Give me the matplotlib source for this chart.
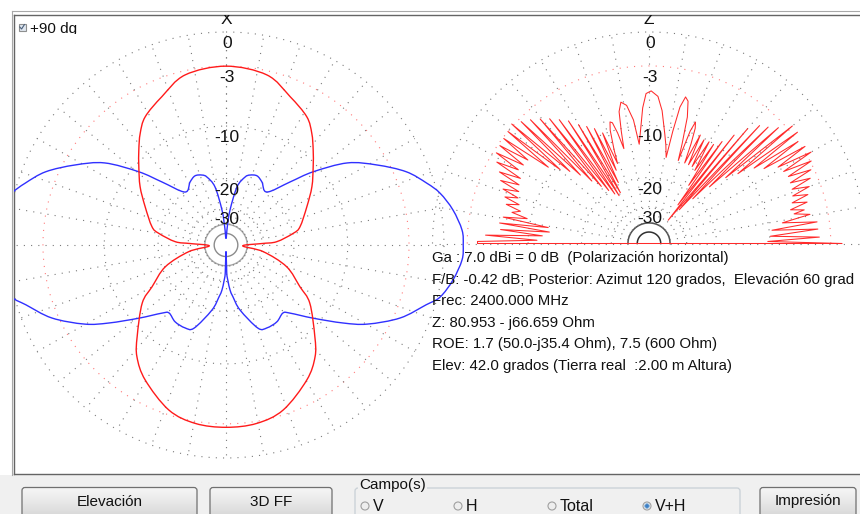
import numpy as np
import matplotlib
matplotlib.use("Agg")
import matplotlib.pyplot as plt
from matplotlib.patches import FancyBboxPatch, Circle, Rectangle, PathPatch
from matplotlib.path import Path
from matplotlib.colors import LinearSegmentedColormap

W, H = 860, 514
FONT = ["Liberation Sans Narrow", "Liberation Sans", "DejaVu Sans"]

# ---------------- pattern data (dB, ARRL log scale) ----------------
# Left plot ("X"): angle from the top, clockwise; the pattern is symmetric
h_theta = [0, 13.2, 22.9, 31.6, 36.9, 41.9, 47.5, 55.2, 64.1, 75.8, 79.9, 86.2,
           87.6, 93.1, 100.4, 110.1, 120, 125.4, 136.5, 142.1, 149.7, 161.3, 170.5, 180]
h_db = [-3.0, -3.4, -4.8, -5.95, -7.25, -8.8, -10.5, -12.6, -15.2, -18.0, -19.9, -25.0,
        -30.9, -44.0, -30.0, -20.9, -16.1, -12.9, -9.0, -7.0, -5.3, -3.45, -2.8, -2.67]

v_theta = [0, 4.0, 6.4, 10.5, 15.3, 18.5, 23.7, 29.2, 37.1, 44.8, 49.3, 55.3, 61.5,
           67.4, 72.5, 76.1, 81.0, 86.3, 90, 93.7, 99, 104, 107, 113.2, 119.8, 124.3,
           130.7, 137.4, 140.7, 147.1, 154.2, 159.4, 168.1, 172.5, 175.0, 176.9, 178.5, 180]
v_db = [-60, -42.1, -30.9, -22.0, -19.0, -18.2, -17.8, -18.6, -20.0, -15.0, -11.0, -6.7,
        -4.1, -1.9, -0.6, 0.2, 0.9, 1.4, 1.45, 1.4, 0.9, 0.2, -0.7, -2.4, -5.0, -7.4,
        -11.0, -14.3, -15.2, -14.5, -14.4, -15.0, -20.0, -24.1, -26.6, -30.5, -34.8, -60]

# Right plot ("Z"): elevation angle from the right horizon, counter-clockwise
elev_phi = [
    0, 1, 2.2, 3.5, 5, 6.3, 7.5, 9, 10.5, 11.8,
    12.5, 13.7, 15, 16.2, 17.5, 18.7, 20, 21.2, 22.5, 23.7, 25, 26.2, 27.5, 28.7,
    30, 31.2, 32.5, 33.7,
    35, 36.3, 37.5, 38.8, 40, 41.3, 42.5, 43.8, 45, 46.3, 47.5, 48.8, 50, 51.2,
    52.5, 53.8, 55, 56.3, 57.5, 58.5,
    60, 61.3, 62.6, 63.9, 65.2, 66.6, 67.6, 68.6, 69.5, 70.3, 71,
    72, 73.5, 75, 76.3, 77.5, 78.3, 79,
    80.5, 82, 84.5, 86.6, 89.2, 91.1, 92.6, 94.5, 95.5,
    97, 99, 101, 102.5, 103.6, 104.5,
    105.5, 106.5, 107.4, 108.5, 110, 111,
    112.3, 113.6, 114.9, 116.2, 117.5, 118.8, 120.1, 121.4, 122.7, 124, 125.3,
    126.6, 127.9, 129.2, 130.5, 131.8, 133.1, 134.4, 135.7, 137, 138.3, 139.6,
    140.9, 142.2,
    143.5, 144.8, 146.1, 147.4, 148.7, 150, 151.3, 152.6, 153.9, 155.2, 156.5,
    157.8, 159.1, 160.4, 161.7, 163, 164.3, 165.6, 166.9, 168.2,
    169.5, 170.8, 172, 173.3, 174.5, 175.8, 177, 178.3, 179.3, 180]
elev_db = [
    -2.0, -10.3, -4.1, -9.9, -4.2, -9.6, -4.2, -8.1, -4.8, -6.5,
    -5.3, -6.8, -4.8, -6.4, -4.5, -6.1, -4.1, -5.9, -3.7, -5.8, -3.3, -5.7, -2.9, -5.9,
    -2.5, -6.2, -2.7, -7.7,
    -3.0, -8.7, -2.5, -11.0, -2.5, -12.9, -3.6, -16.3, -4.3, -21.1, -4.8, -26.6, -5.9, -33.6,
    -7.5, -25.5, -9.1, -19.0, -10.1, -15.5,
    -10.1, -15.1, -10.2, -15.1, -9.8, -15.1, -11.6, -9.2, -8.4, -9.8, -15.1,
    -12.1, -8.1, -6.2, -5.8, -7.1, -10.5, -15.1,
    -12.9, -11.1, -7.9, -6.2, -5.6, -5.9, -7.6, -11.3, -12.9,
    -9.1, -7.1, -6.6, -7.7, -10.5, -13.2,
    -10.5, -8.9, -8.7, -9.8, -12.9, -15.5,
    -9.8, -16.7, -8.8, -19.5, -8.1, -22.2, -7.4, -22.8, -6.4, -21.7, -5.7,
    -20.0, -5.0, -18.1, -4.4, -15.9, -3.8, -13.6, -3.3, -11.9, -2.8, -10.6,
    -3.0, -9.1,
    -3.1, -6.5, -3.2, -6.4, -3.3, -6.2, -3.8, -6.9, -4.5, -7.1, -5.0,
    -7.4, -5.6, -7.6, -6.1, -8.0, -6.5, -8.4, -7.4, -9.5,
    -6.5, -12.9, -6.2, -13.2, -6.4, -12.1, -4.8, -11.3, -4.0, -4.0]

ring_db = [0, -3, -10, -20, -30]
ring_labels = ["0", "-3", "-10", "-20", "-30"]
core_db = [-40, -50]

info_lines = [
    "Ga : 7.0 dBi = 0 dB  (Polarización horizontal)",
    "F/B: -0.42 dB; Posterior: Azimut 120 grados,  Elevación 60 grad",
    "Frec: 2400.000 MHz",
    "Z: 80.953 - j66.659 Ohm",
    "ROE: 1.7 (50.0-j35.4 Ohm), 7.5 (600 Ohm)",
    "Elev: 42.0 grados (Tierra real  :2.00 m Altura)",
]
buttons = ["Elevación", "3D FF", "Impresión"]
radio_labels = ["V", "H", "Total", "V+H"]
radio_selected = "V+H"

# ---------------- geometry of the two polar charts (pixels) ----------------
LEFT = dict(cx=226.0, cy=245.0, rx=218.0, ry=213.0)
RIGHT = dict(cx=649.0, cy=243.5, rx=216.5, ry=211.5)


def arrl(db):
    """ARRL log radial scale: every 2 dB shrinks the radius by 0.89."""
    return 0.89 ** (-np.asarray(db, dtype=float) / 2.0)


def polar_xy(g, theta_deg, db):
    """theta measured from the top, clockwise."""
    t = np.radians(np.asarray(theta_deg, dtype=float))
    rho = arrl(db)
    return g["cx"] + g["rx"] * rho * np.sin(t), g["cy"] - g["ry"] * rho * np.cos(t)


def smooth_closed_path(x, y):
    """Closed Catmull-Rom curve through the given vertices, as cubic Beziers."""
    p = np.column_stack([x, y])
    n = len(p)
    verts = [p[0]]
    codes = [Path.MOVETO]
    for i in range(n):
        p0, p1, p2, p3 = p[i - 1], p[i], p[(i + 1) % n], p[(i + 2) % n]
        verts += [p1 + (p2 - p0) / 6.0, p2 - (p3 - p1) / 6.0, p2]
        codes += [Path.CURVE4] * 3
    return Path(np.array(verts), codes)


fig = plt.figure(figsize=(W / 100, H / 100), dpi=100)
fig.patch.set_facecolor("white")

ui = fig.add_axes([0, 0, 1, 1])
ui.set_xlim(0, W)
ui.set_ylim(H, 0)
ui.axis("off")

# window background under the chart panel
ui.add_patch(Rectangle((0, 475), W, H - 475, fc="#f0f0f0", ec="none", zorder=0))
ui.plot([11.5, W], [10.5, 10.5], color="#a8a8a8", lw=0.8, zorder=1)
ui.plot([11.5, 11.5], [10.5, 475], color="#a8a8a8", lw=0.8, zorder=1)

# chart panel (data coordinates == pixels)
px0, py0, px1, py1 = 13.5, 14.5, 860.0, 474.0
pa = fig.add_axes([px0 / W, 1 - py1 / H, (px1 - px0) / W, (py1 - py0) / H])
pa.set_xlim(px0, px1)
pa.set_ylim(py1, py0)
pa.set_facecolor("white")
pa.set_xticks([])
pa.set_yticks([])
for s in pa.spines.values():
    s.set_color("#646464")
    s.set_linewidth(1.0)
pa.spines["right"].set_visible(False)

DOT = (0, (1.0, 5.5))
GRID = "#7a7a7a"


def draw_grid(g, t0, t1, core_colors, core_lw):
    tt = np.linspace(t0, t1, 721)
    for db in ring_db:
        x, y = polar_xy(g, tt, np.full_like(tt, db))
        col = "#ff7a7a" if db == -3 else GRID
        pa.plot(x, y, ls=DOT, color=col, lw=0.8, zorder=1)
    for db, c in zip(core_db, core_colors):
        x, y = polar_xy(g, tt, np.full_like(tt, db))
        pa.plot(x, y, color=c, lw=core_lw, zorder=1)
    for a in np.arange(t0, t1 + 0.1, 10):
        x, y = polar_xy(g, [a, a], [-40, 0])
        pa.plot(x, y, ls=DOT, color=GRID, lw=0.8, zorder=1)


draw_grid(LEFT, 0, 360, ["#a8a8a8", "#8c8c8c"], 1.0)
draw_grid(RIGHT, -90, 90, ["#505050", "#303030"], 1.1)


# left chart: two polarisations, mirrored about the vertical axis
def full_circle(theta, db):
    th = np.asarray(theta, float)
    d = np.asarray(db, float)
    return np.concatenate([th, 360 - th[::-1][1:-1]]), np.concatenate([d, d[::-1][1:-1]])


for theta, db, col, z in ((v_theta, v_db, "#3030ff", 3), (h_theta, h_db, "#ff1a1a", 4)):
    th, d = full_circle(theta, db)
    x, y = polar_xy(LEFT, th, d)
    pa.add_patch(PathPatch(smooth_closed_path(x, y), fill=False, ec=col, lw=1.0, zorder=z))

# right chart: elevation pattern, closed along the ground line
phi = np.asarray(elev_phi, float)
x, y = polar_xy(RIGHT, 90 - phi, elev_db)
x = np.append(x, x[0])
y = np.append(y, y[0])
pa.plot(x, y, color="#ff2a2a", lw=0.75, zorder=4)

# scale labels
for g, axis_name in ((LEFT, "X"), (RIGHT, "Z")):
    pa.text(g["cx"], g["cy"] - g["ry"] - 13, axis_name, ha="center", va="center",
            fontsize=12.5, family=FONT, color="#111111", zorder=6, clip_on=True)
    for db, lab in zip(ring_db, ring_labels):
        yy = g["cy"] - g["ry"] * arrl(db) + 11.5
        pa.text(g["cx"] + 1, yy, lab, ha="center", va="center", fontsize=12.5,
                family=FONT, color="#111111", zorder=6)

# result block
for i, line in enumerate(info_lines):
    pa.text(432, 258 + 21.5 * i, line, ha="left", va="center", fontsize=10.8,
            family=FONT, color="#111111", zorder=7, clip_on=True)

# "+90 dg" check box (label clipped by its control height)
cb = fig.add_axes([14 / W, 1 - 34 / H, 90 / W, 19 / H])
cb.set_xlim(14, 104)
cb.set_ylim(34, 15)
cb.axis("off")
cb.add_patch(Rectangle((18.5, 23.5), 7, 7, fc="#dfe6ef", ec="#8e8f8f", lw=0.8))
cb.plot([19.8, 21.6, 24.4], [27.0, 29.0, 24.6], color="#4a5f7a", lw=0.8)
cb.text(30.5, 28.5, "+90 dg", ha="left", va="center", fontsize=11, family=FONT,
        color="#111111", clip_on=True)

# ---------------- bottom control strip ----------------
btn_cmap = LinearSegmentedColormap.from_list(
    "btn", ["#f6f6f6", "#ececec", "#e0e0e0", "#d2d2d2"])


def button(x0, x1, label):
    y0, y1 = 487.5, 520
    grad = np.linspace(0, 1, 64).reshape(-1, 1)
    im = ui.imshow(grad, cmap=btn_cmap, extent=(x0, x1, y1, y0), origin="upper",
                   aspect="auto", zorder=2)
    box = FancyBboxPatch((x0, y0), x1 - x0, y1 - y0,
                         boxstyle="round,pad=0,rounding_size=3",
                         fc="none", ec="#707070", lw=0.9, zorder=3)
    ui.add_patch(box)
    im.set_clip_path(box)
    ui.text((x0 + x1) / 2, 501.5, label, ha="center", va="center", fontsize=11,
            family=FONT, color="#111111", zorder=4)


button(22, 197, buttons[0])
button(210, 332, buttons[1])
button(760, 856, buttons[2])

# "Campo(s)" group box
grp = FancyBboxPatch((355, 488), 385, 40, boxstyle="round,pad=0,rounding_size=3",
                     fc="none", ec="#c8d0d6", lw=0.9, zorder=2)
ui.add_patch(grp)
ui.text(359, 484.5, "Campo(s)", ha="left", va="center", fontsize=11, family=FONT,
        color="#111111", zorder=4,
        bbox=dict(boxstyle="square,pad=0.05", fc="#f0f0f0", ec="none"))

radio_x = [365, 458, 552, 647]
for rx_, lab in zip(radio_x, radio_labels):
    ui.add_patch(Circle((rx_, 506), 4.0, fc="#eeeeee", ec="#a0a0a0", lw=0.8, zorder=3))
    if lab == radio_selected:
        ui.add_patch(Circle((rx_, 506), 2.3, fc="#3d7fc4", ec="#8fb8e0", lw=0.6, zorder=4))
    ui.text(rx_ + 7.5, 506.5, lab, ha="left", va="center", fontsize=11.5, family=FONT,
            color="#111111", zorder=4)

ui.set_xlim(0, W)
ui.set_ylim(H, 0)
fig.savefig("out.png", dpi=100, facecolor=fig.get_facecolor())
